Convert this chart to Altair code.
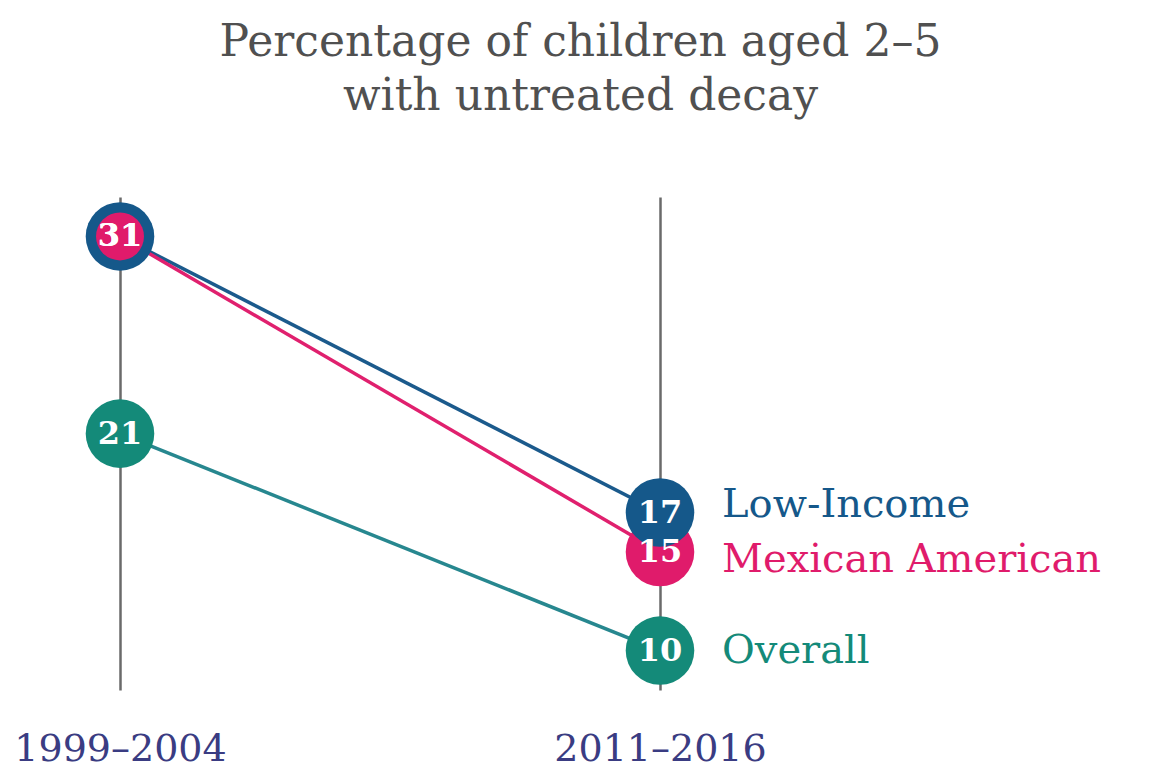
import altair as alt
import pandas as pd

groups = ["Low-Income", "Mexican American", "Overall"]
periods = ["1999–2004", "2011–2016"]
start_values = [31, 31, 21]
end_values = [17, 15, 10]
point_colors = ["#15588a", "#e01b6b", "#148a79"]
line_colors = ["#1b5a8c", "#e0206e", "#27878f"]
title_lines = ["Percentage of children aged 2–5", "with untreated decay"]

rows = []
for i, (g, s, e) in enumerate(zip(groups, start_values, end_values)):
    rows.append({"group": g, "period": periods[0], "value": s, "order": 0, "z": -i})
    rows.append({"group": g, "period": periods[1], "value": e, "order": 1, "z": -i})
df = pd.DataFrame(rows)

FONT = "DejaVu Serif"

x_enc = alt.X(
    "period:N",
    scale=alt.Scale(type="point", domain=periods, range=[120, 660], padding=0),
    axis=alt.Axis(
        title=None, orient="bottom", domain=False, ticks=False,
        grid=True, gridColor="#6a6a6a", gridWidth=2.5,
        labelFont=FONT, labelFontSize=38, labelColor="#3a3c82",
        labelPadding=40, labelAngle=0, labelLimit=400,
    ),
)
y_enc = alt.Y("value:Q", scale=alt.Scale(domain=[8, 33]), axis=None)

color_points = alt.Color("group:N", scale=alt.Scale(domain=groups, range=point_colors), legend=None)
color_lines = alt.Color("group:N", scale=alt.Scale(domain=groups, range=line_colors), legend=None)

base = alt.Chart(df)

lines = base.mark_line(strokeWidth=3.5).encode(
    x=x_enc, y=y_enc, color=color_lines, detail="group:N", order="order:Q",
)

big_points = base.transform_filter(
    "!(datum.group == 'Mexican American' && datum.order == 0)"
).mark_circle(size=4700, opacity=1).encode(
    x=x_enc, y=y_enc, color=color_points, order=alt.Order("z:Q")
)

small_points = base.transform_filter(
    "datum.group == 'Mexican American' && datum.order == 0"
).mark_circle(size=2300, opacity=1).encode(x=x_enc, y=y_enc, color=color_points)

value_text = base.mark_text(
    font=FONT, fontSize=32, fontWeight="bold", color="white", baseline="middle", align="center"
).encode(x=x_enc, y=y_enc, text="value:Q")

label_offsets = {"Low-Income": -8, "Mexican American": 8, "Overall": 0}
group_layers = []
for g in groups:
    group_layers.append(
        base.transform_filter(f"datum.order == 1 && datum.group == '{g}'").mark_text(
            font=FONT, fontSize=40, align="left", baseline="middle", dx=62, dy=label_offsets[g]
        ).encode(x=x_enc, y=y_enc, text="group:N", color=color_points)
    )

chart = alt.layer(lines, big_points, small_points, value_text, *group_layers).resolve_scale(
    color="independent"
).properties(
    width=1161,
    height=493,
    autosize=alt.AutoSizeParams(type="none"),
    padding={"left": 0, "top": 197, "right": 0, "bottom": 81},
    title=alt.TitleParams(
        text=title_lines, font=FONT, fontSize=44, fontWeight="normal",
        color="#505050", anchor="middle", lineHeight=54, offset=78,
    ),
).configure_view(stroke=None)

chart.save("out.html", embed_options={"renderer": "svg", "actions": False})
